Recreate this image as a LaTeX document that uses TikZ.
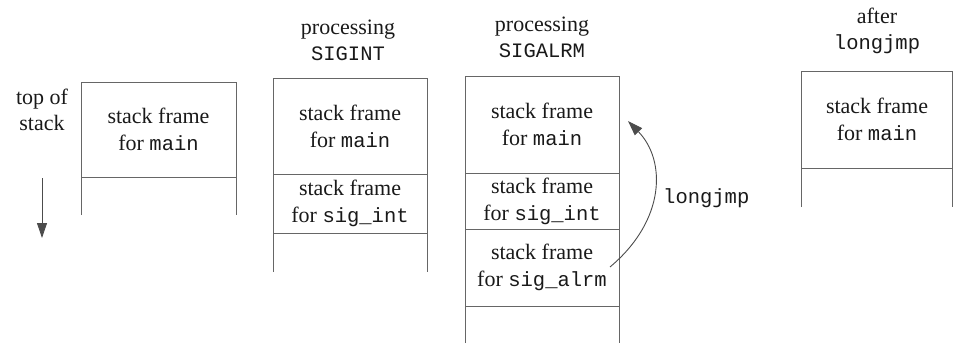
\documentclass[tikz,border=0pt]{standalone}
\usepackage{fontspec}
\setmainfont{Liberation Serif}
\setmonofont{Liberation Mono}
\usetikzlibrary{arrows.meta}
\tikzset{
  wall/.style={draw=black!60, line width=0.9pt},
  lbl/.style={align=center, inner sep=0pt, text=black!90, font=\fontsize{22}{26}\selectfont},
  frame/.style={align=center, inner sep=0pt, text=black!90, font=\fontsize{22}{27}\selectfont},
  code/.style={inner sep=0pt, text=black!90, font=\fontsize{20.5}{25}\ttfamily},
  arr/.style={draw=black!70, line width=0.9pt, -{Triangle[length=15pt,width=10pt]}}
}
\begin{document}
\begin{tikzpicture}[x=1pt,y=-1pt]
\useasboundingbox (0,0) rectangle (953,343);
% column 1
\draw[wall] (81,215) -- (81,82) -- (236,82) -- (236,215);
\draw[wall] (81,177) -- (236,177);
\node[frame] (m1) at (158.5,129) {stack frame\\for \texttt{\fontsize{20.5}{27}\selectfont main}};
\node[lbl] (tos) at (42,110) {top of\\stack};
\coordinate (d1) at (42,178);
\coordinate (d2) at (42,238);
\draw[arr] (d1) -- (d2);
% column 2
\node[lbl] (h2) at (348,40) {processing\\\texttt{\fontsize{20.5}{26}\selectfont SIGINT}};
\draw[wall] (273,272) -- (273,78) -- (427,78) -- (427,272);
\draw[wall] (273,174) -- (427,174);
\draw[wall] (273,233) -- (427,233);
\node[frame] (m2) at (350,126) {stack frame\\for \texttt{\fontsize{20.5}{27}\selectfont main}};
\node[frame] (s2) at (350,203.5) {stack frame\\for \texttt{\fontsize{20.5}{27}\selectfont sig\_int}};
% column 3
\node[lbl] (h3) at (542,37) {processing\\\texttt{\fontsize{20.5}{26}\selectfont SIGALRM}};
\draw[wall] (465,343) -- (465,76) -- (619,76) -- (619,343);
\draw[wall] (465,173) -- (619,173);
\draw[wall] (465,229) -- (619,229);
\draw[wall] (465,306) -- (619,306);
\node[frame] (m3) at (542,124.5) {stack frame\\for \texttt{\fontsize{20.5}{27}\selectfont main}};
\node[frame] (s3) at (542,201) {stack frame\\for \texttt{\fontsize{20.5}{27}\selectfont sig\_int}};
\node[frame] (a3) at (542,267.5) {stack frame\\for \texttt{\fontsize{20.5}{27}\selectfont sig\_alrm}};
\coordinate (j1) at (610,267);
\coordinate (j2) at (628,121);
\draw[arr] (j1) .. controls (666,220) and (666,160) .. (j2);
\node[code, anchor=west] (lj) at (663,198) {longjmp};
% column 4
\node[lbl] (h4) at (877,31) {after\\\texttt{\fontsize{20.5}{26}\selectfont longjmp}};
\draw[wall] (801,207) -- (801,71) -- (952,71) -- (952,207);
\draw[wall] (801,168) -- (952,168);
\node[frame] (m4) at (877,119.5) {stack frame\\for \texttt{\fontsize{20.5}{27}\selectfont main}};
\end{tikzpicture}
\end{document}
